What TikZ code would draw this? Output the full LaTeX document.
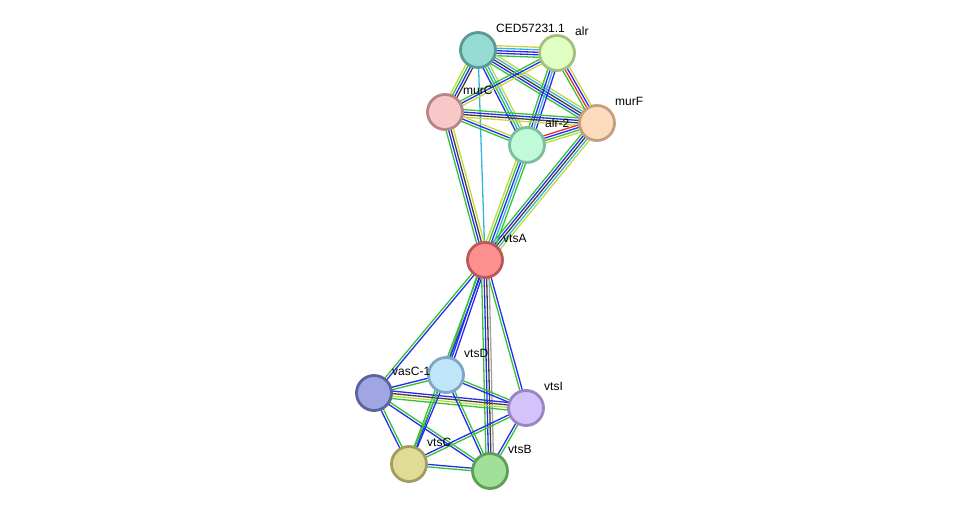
\documentclass[tikz,border=0pt]{standalone}
\usepackage{fontspec}
\setmainfont{Liberation Sans}
\usetikzlibrary{calc,backgrounds}

% evidence colours
\definecolor{lkgreen}{HTML}{33C433}
\definecolor{lkblue}{HTML}{2929F0}
\definecolor{lkblack}{HTML}{404040}
\definecolor{lkyellow}{HTML}{C6D641}
\definecolor{lkcyan}{HTML}{33B5E0}
\definecolor{lkred}{HTML}{F03030}
\definecolor{lkgray}{HTML}{A0A0A0}
% protein colours
\definecolor{cedF}{HTML}{96DCD4}\definecolor{cedD}{HTML}{5A9A92}
\definecolor{alrF}{HTML}{E0FFC2}\definecolor{alrD}{HTML}{A2C07E}
\definecolor{murcF}{HTML}{F8C8C8}\definecolor{murcD}{HTML}{B88686}
\definecolor{murfF}{HTML}{FDDCBE}\definecolor{murfD}{HTML}{C4A07E}
\definecolor{alrtF}{HTML}{C0FAD8}\definecolor{alrtD}{HTML}{7EBE9C}
\definecolor{vtsaF}{HTML}{FF9090}\definecolor{vtsaD}{HTML}{C05858}
\definecolor{vtsdF}{HTML}{C0E6FA}\definecolor{vtsdD}{HTML}{80A6C6}
\definecolor{vascF}{HTML}{A0A6E2}\definecolor{vascD}{HTML}{5A62A0}
\definecolor{vtsiF}{HTML}{D4C2FA}\definecolor{vtsiD}{HTML}{9A84C8}
\definecolor{vtscF}{HTML}{E0DC98}\definecolor{vtscD}{HTML}{A09E5E}
\definecolor{vtsbF}{HTML}{A0E098}\definecolor{vtsbD}{HTML}{5E9E58}

% parallel coloured lines between two nodes
\newcommand{\strlink}[3]{%
  \foreach \col [count=\i] in {#3} {\xdef\nlinks{\i}}
  \foreach \col [count=\i] in {#3} {
    \pgfmathsetmacro{\off}{(\i-(\nlinks+1)/2)*2.5}
    \draw[link,\col] ($(#1)!\off pt!90:(#2)$) -- ($(#2)!\off pt!-90:(#1)$);
  }}

\begin{document}
\begin{tikzpicture}[x=1pt,y=-1pt,
    prot/.style={circle, minimum size=35pt, inner sep=0pt, line width=2.8pt},
    lbl/.style={font=\fontsize{12}{14}\selectfont, anchor=west, inner sep=0pt},
    link/.style={line width=1.3pt}
  ]
  \useasboundingbox (0,0) rectangle (975,516);

  \foreach \nm/\x/\y/\pc/\txt in {
      CED/478/50/ced/CED57231.1, alr/557/53/alr/alr,
      murC/445/112/murc/murC, murF/597/123/murf/murF,
      alr2/527/145/alrt/alr-2, vtsA/485/260/vtsa/vtsA,
      vtsD/446/375/vtsd/vtsD, vasC/374/393/vasc/vasC-1,
      vtsI/526/408/vtsi/vtsI, vtsC/409/464/vtsc/vtsC,
      vtsB/490/471/vtsb/vtsB} {
    \node[prot, fill=\pc F, draw=\pc D] (\nm) at (\x,\y) {};
    \node[lbl] (\nm-l) at (\x+18,\y-21.5) {\txt};
  }

  \begin{pgfonlayer}{background}
    % upper cluster
    \strlink{CED}{alr}{lkgreen,lkblue,lkblue,lkcyan,lkyellow}
    \strlink{CED}{murC}{lkyellow,lkgreen,lkblue,lkblack}
    \strlink{CED}{murF}{lkgreen,lkblue,lkblack,lkcyan,lkyellow}
    \strlink{CED}{alr2}{lkblue,lkgreen,lkcyan,lkyellow}
    \strlink{CED}{vtsA}{lkcyan}
    \strlink{alr}{murC}{lkgreen,lkblue,lkyellow}
    \strlink{alr}{murF}{lkgreen,lkred,lkblue,lkyellow}
    \strlink{alr}{alr2}{lkgreen,lkblue,lkcyan,lkblue}
    \strlink{murC}{murF}{lkyellow,lkblack,lkblue,lkgreen}
    \strlink{murC}{alr2}{lkgreen,lkblue,lkyellow}
    \strlink{murC}{vtsA}{lkgreen,lkblue,lkblack,lkyellow}
    \strlink{murF}{alr2}{lkred,lkblue,lkgreen,lkyellow}
    \strlink{murF}{vtsA}{lkgreen,lkblue,lkblack,lkcyan,lkyellow}
    \strlink{alr2}{vtsA}{lkyellow,lkgreen,lkblue,lkcyan,lkgreen}
    % lower cluster
    \strlink{vtsA}{vasC}{lkgreen,lkblue}
    \strlink{vtsA}{vtsD}{lkgreen,lkblue,lkblue}
    \strlink{vtsA}{vtsI}{lkgreen,lkblue}
    \strlink{vtsA}{vtsC}{lkgreen,lkblue}
    \strlink{vtsA}{vtsB}{lkgreen,lkblue,lkblack,lkgray}
    \strlink{vasC}{vtsD}{lkgreen,lkblue}
    \strlink{vasC}{vtsI}{lkgreen,lkyellow,lkblack,lkblue}
    \strlink{vasC}{vtsC}{lkblue,lkgreen}
    \strlink{vasC}{vtsB}{lkblue,lkgreen}
    \strlink{vtsD}{vtsI}{lkblue,lkgreen}
    \strlink{vtsD}{vtsC}{lkgreen,lkblue}
    \strlink{vtsD}{vtsB}{lkblue,lkgreen}
    \strlink{vtsI}{vtsC}{lkblue,lkgreen}
    \strlink{vtsI}{vtsB}{lkblue,lkgreen}
    \strlink{vtsC}{vtsB}{lkgreen,lkblue}
  \end{pgfonlayer}
\end{tikzpicture}
\end{document}
